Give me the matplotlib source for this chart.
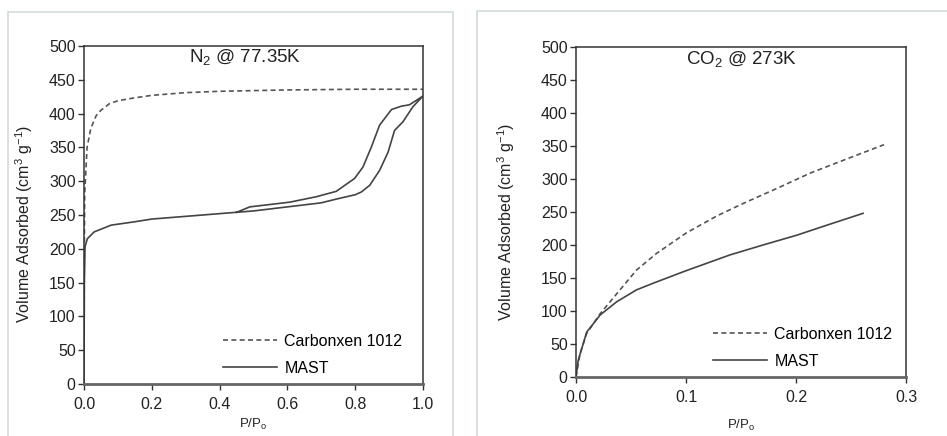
#!/usr/bin/env python

import numpy as np
import matplotlib
matplotlib.use("Agg")
from matplotlib import pyplot as plt
from matplotlib.patches import Rectangle

plt.rcParams['font.family'] = ['Liberation Sans', 'DejaVu Sans']
plt.rcParams['mathtext.default'] = 'regular'

# N2 isotherm @ 77.35K
n2_carb_x = [0, 0.001, 0.002, 0.004, 0.009, 0.02, 0.036, 0.05, 0.076, 0.1, 0.145, 0.2, 0.3, 0.4, 0.6, 0.8, 1.0]
n2_carb_y = [0, 200, 280, 300, 350, 378, 397, 405, 415, 419, 423, 427, 431, 433, 435, 436, 436]

n2_mast_ads_x = [0, 0.001, 0.003, 0.01, 0.03, 0.08, 0.15, 0.2, 0.3, 0.4, 0.45, 0.5, 0.6, 0.7, 0.74,
                 0.8, 0.818, 0.843, 0.872, 0.897, 0.916, 0.941, 0.97, 1.0]
n2_mast_ads_y = [0, 150, 203, 215, 225, 235, 240, 244, 248, 252, 254, 256, 262, 268, 273,
                 280, 284, 294, 316, 343, 375, 388, 410, 426]
n2_mast_des_x = [1.0, 0.96, 0.936, 0.907, 0.872, 0.848, 0.823, 0.798, 0.744, 0.685, 0.607, 0.489, 0.46, 0.45]
n2_mast_des_y = [426, 413, 411, 406, 383, 351, 321, 304, 285, 277, 269, 262, 256, 254]

# CO2 isotherm @ 273K
co2_carb_x = [0, 0.0036, 0.0097, 0.022, 0.037, 0.055, 0.073, 0.1, 0.128, 0.152, 0.183, 0.213, 0.244, 0.28]
co2_carb_y = [0, 35, 66, 96, 126, 162, 187, 218, 244, 263, 286, 309, 329, 352]
co2_mast_x = [0, 0.002, 0.0097, 0.022, 0.037, 0.055, 0.07, 0.1, 0.14, 0.17, 0.201, 0.228, 0.261]
co2_mast_y = [0, 25, 68, 94, 114, 132, 142, 161, 185, 200, 215, 230, 248]

W, H = 947, 436
fig = plt.figure(figsize=(W / 100, H / 100), dpi=100)

# light panel borders
for (x0, y0, x1, y1) in [(8, 12, 453, 440), (477, 11, 951, 440)]:
    fig.patches.append(Rectangle((x0 / W, 1 - y1 / H), (x1 - x0) / W, (y1 - y0) / H,
                                 transform=fig.transFigure, fill=False,
                                 edgecolor='#d3dbdb', linewidth=1.2))


def setup(ax, xmax, xticks, xfmt):
    ax.set_xlim(0, xmax)
    ax.set_ylim(0, 500)
    ax.set_xticks(xticks)
    ax.set_xticklabels([xfmt % t for t in xticks])
    ax.set_yticks(np.arange(0, 501, 50))
    ax.tick_params(direction='out', length=4, width=1, colors='#333333',
                   labelsize=11.5, labelcolor='#222222', pad=2)
    ax.tick_params(axis='x', pad=5)
    for s in ax.spines.values():
        s.set_color('#333333')
        s.set_linewidth(1.1)
    ax.spines['bottom'].set_linewidth(2)
    ax.spines['bottom'].set_color('#666666')
    ax.set_ylabel("Volume Adsorbed (cm$^3$ g$^{-1}$)", fontsize=11.5, color='#222222')
    ax.set_xlabel("P/P$_o$", fontsize=9.5, color='#222222')


# left panel
ax1 = fig.add_axes([84 / W, 1 - 384 / H, 339 / W, 338 / H])
setup(ax1, 1.0, [0, 0.2, 0.4, 0.6, 0.8, 1.0], "%.1f")
ax1.plot(n2_carb_x, n2_carb_y, '--', color='#555555', linewidth=1.2, dashes=(3, 2), label="Carbonxen 1012")
ax1.plot(n2_mast_ads_x + n2_mast_des_x, n2_mast_ads_y + n2_mast_des_y, '-', color='#444444',
         linewidth=1.2, label="MAST")
ax1.text(0.475, 0.967, "N$_2$ @ 77.35K", transform=ax1.transAxes, ha='center', va='center',
         fontsize=13.5, color='#222222')
ax1.yaxis.set_label_coords(-0.145, 0.473)
ax1.xaxis.set_label_coords(0.5, -0.098)
ax1.legend(loc='lower left', bbox_to_anchor=(0.41, 0.025), frameon=False, fontsize=11.5,
           handlelength=3.4, handletextpad=0.45, borderpad=0, borderaxespad=0, labelspacing=0.75)

# right panel
ax2 = fig.add_axes([576 / W, 1 - 377 / H, 330 / W, 330 / H])
setup(ax2, 0.3, [0, 0.1, 0.2, 0.3], "%.1f")
ax2.plot(co2_carb_x, co2_carb_y, '--', color='#555555', linewidth=1.2, dashes=(3, 2), label="Carbonxen 1012")
ax2.plot(co2_mast_x, co2_mast_y, '-', color='#444444', linewidth=1.2, label="MAST")
ax2.text(0.503, 0.964, "CO$_2$ @ 273K", transform=ax2.transAxes, ha='center', va='center',
         fontsize=13.5, color='#222222')
ax2.yaxis.set_label_coords(-0.179, 0.47)
ax2.xaxis.set_label_coords(0.5, -0.124)
ax2.legend(loc='lower left', bbox_to_anchor=(0.415, 0.025), frameon=False, fontsize=11.5,
           handlelength=3.4, handletextpad=0.45, borderpad=0, borderaxespad=0, labelspacing=0.75)

fig.savefig("out.png", dpi=100)
